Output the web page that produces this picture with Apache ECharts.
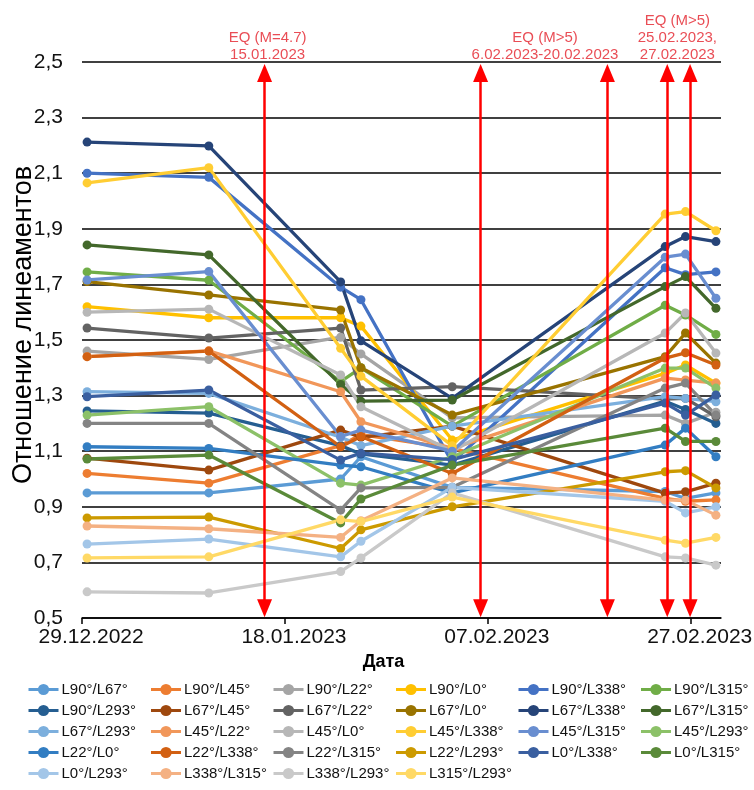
<!DOCTYPE html>
<html><head><meta charset="utf-8">
<script src="https://cdn.jsdelivr.net/npm/echarts@6/dist/echarts.min.js"></script>
<style>html,body{margin:0;padding:0;background:#fff}#c{width:754px;height:790px}</style>
</head><body><div id="c"></div>
<script>
// ---- data ----
const startDate = '2022-12-29';
const dates = ['2022-12-29','2023-01-10','2023-01-23','2023-01-25','2023-02-03','2023-02-24','2023-02-26','2023-03-01'];
const tickDays = [0, 20, 40, 60];
const tickLabels = ['29.12.2022','18.01.2023','07.02.2023','27.02.2023'];
const yTicks = ['0,5','0,7','0,9','1,1','1,3','1,5','1,7','1,9','2,1','2,3','2,5'];

const seriesNames = ['L90°/L67°','L90°/L45°','L90°/L22°','L90°/L0°','L90°/L338°','L90°/L315°',
  'L90°/L293°','L67°/L45°','L67°/L22°','L67°/L0°','L67°/L338°','L67°/L315°',
  'L67°/L293°','L45°/L22°','L45°/L0°','L45°/L338°','L45°/L315°','L45°/L293°',
  'L22°/L0°','L22°/L338°','L22°/L315°','L22°/L293°','L0°/L338°','L0°/L315°',
  'L0°/L293°','L338°/L315°','L338°/L293°','L315°/L293°'];

const v_90_67  = [0.95, 0.95, 1.00, 1.08, 0.97, 0.955, 0.93, 0.95];
const v_90_45  = [1.02, 0.985, 1.12, 1.16, 1.11, 0.93, 0.92, 0.925];
const v_90_22  = [1.46, 1.43, 1.51, 1.45, 1.22, 1.23, 1.20, 1.24];
const v_90_0   = [1.62, 1.58, 1.58, 1.55, 1.14, 1.38, 1.41, 1.345];
const v_90_338 = [2.10, 2.085, 1.69, 1.645, 1.06, 1.76, 1.735, 1.745];
const v_90_315 = [1.745, 1.715, 1.35, 1.40, 1.19, 1.625, 1.59, 1.52];
const v_90_293 = [1.245, 1.237, 1.12, 1.09, 1.05, 1.28, 1.25, 1.20];
const v_67_45  = [1.075, 1.032, 1.176, 1.15, 1.19, 0.949, 0.954, 0.985];
const v_67_22  = [1.543, 1.507, 1.543, 1.32, 1.332, 1.287, 1.29, 1.224];
const v_67_0   = [1.71, 1.662, 1.608, 1.40, 1.23, 1.44, 1.525, 1.417];
const v_67_338 = [2.212, 2.198, 1.709, 1.497, 1.29, 1.836, 1.872, 1.854];
const v_67_315 = [1.842, 1.806, 1.34, 1.28, 1.284, 1.692, 1.728, 1.614];
const v_67_293 = [1.314, 1.308, 1.15, 1.12, 1.19, 1.296, 1.29, 1.278];
const v_45_22  = [1.44, 1.461, 1.314, 1.206, 1.11, 1.363, 1.356, 1.345];
const v_45_0   = [1.60, 1.611, 1.374, 1.26, 1.10, 1.525, 1.597, 1.453];
const v_45_338 = [2.065, 2.12, 1.47, 1.37, 1.12, 1.953, 1.962, 1.893];
const v_45_315 = [1.716, 1.746, 1.153, 1.176, 1.10, 1.798, 1.809, 1.65];
const v_45_293 = [1.23, 1.26, 0.985, 0.978, 1.08, 1.399, 1.399, 1.327];
const v_22_0   = [1.116, 1.11, 1.05, 1.044, 0.95, 1.122, 1.183, 1.08];
const v_22_338 = [1.44, 1.46, 1.116, 1.153, 1.02, 1.435, 1.454, 1.41];
const v_22_315 = [1.20, 1.20, 0.888, 0.968, 0.97, 1.327, 1.345, 1.23];
const v_22_293 = [0.86, 0.863, 0.75, 0.817, 0.90, 1.026, 1.03, 0.968];
const v_0_338  = [1.296, 1.32, 1.068, 1.093, 1.07, 1.273, 1.23, 1.302];
const v_0_315  = [1.072, 1.086, 0.842, 0.928, 1.05, 1.183, 1.135, 1.135];
const v_0_293  = [0.766, 0.784, 0.72, 0.776, 0.97, 0.92, 0.878, 0.90];
const v_338_315= [0.831, 0.821, 0.79, 0.85, 1.004, 0.924, 0.924, 0.87];
const v_338_293= [0.594, 0.59, 0.667, 0.716, 0.95, 0.72, 0.716, 0.69];
const v_315_293= [0.716, 0.72, 0.853, 0.847, 0.935, 0.78, 0.769, 0.79];

const seriesValues = [v_90_67, v_90_45, v_90_22, v_90_0, v_90_338, v_90_315,
  v_90_293, v_67_45, v_67_22, v_67_0, v_67_338, v_67_315,
  v_67_293, v_45_22, v_45_0, v_45_338, v_45_315, v_45_293,
  v_22_0, v_22_338, v_22_315, v_22_293, v_0_338, v_0_315,
  v_0_293, v_338_315, v_338_293, v_315_293];

const seriesColors = ['#5B9BD5','#ED7D31','#A5A5A5','#FFC000','#4472C4','#70AD47',
  '#255E91','#9E480E','#636363','#997300','#264478','#43682B',
  '#7CAFDD','#F1975A','#B7B7B7','#FFCD33','#698ED0','#8CC168',
  '#327DC2','#D26012','#848484','#CC9A00','#3A5FA0','#5A8A39',
  '#A3C6E8','#F4B183','#C9C9C9','#FFD966'];

// earthquake markers (day offsets from start as placed in the figure)
const eventDays = [18.0, 39.3, 51.8, 57.7, 59.95];
const eventTextDays = [18.3, 45.65, 58.7];
const eventTexts = ['EQ (M=4.7)\n15.01.2023', 'EQ (M>5)\n6.02.2023-20.02.2023', 'EQ (M>5)\n25.02.2023,\n27.02.2023'];

// ---- build ----
function dayOf(s) {
  const p = s.split('-').map(Number), q = startDate.split('-').map(Number);
  return (Date.UTC(p[0], p[1]-1, p[2]) - Date.UTC(q[0], q[1]-1, q[2])) / 86400000;
}
const xs = dates.map(d => dayOf(d) + 0.5);
const FONT = '"Liberation Sans", Arial, sans-serif';

const lineSeries = seriesNames.map((name, i) => ({
  name, type: 'line', data: seriesValues[i].map((v, j) => [xs[j], v]),
  symbol: 'circle', symbolSize: 9, showSymbol: true,
  lineStyle: { width: 3.3, color: seriesColors[i] },
  itemStyle: { color: seriesColors[i] },
  z: 3, animation: false
}));

const annotation = {
  name: 'events', type: 'scatter', symbolSize: 0, z: 5, silent: true,
  data: eventTexts.map((t, i) => [eventTextDays[i], 2.5, t]),
  label: { show: true, position: 'top', distance: -1, formatter: p => p.value[2],
    color: '#E3202A', fontSize: 15, lineHeight: 17, fontFamily: FONT, align: 'center' },
  markLine: {
    silent: true, symbol: ['triangle', 'triangle'], symbolSize: [15, 18],
    lineStyle: { color: '#FF0000', width: 2.5, type: 'solid' },
    itemStyle: { color: '#FF0000' },
    label: { show: false },
    data: eventDays.map(d => [{ coord: [d, 0.535] }, { coord: [d, 2.46] }])
  }
};

const chart = echarts.init(document.getElementById('c'), null, { renderer: 'canvas' });
chart.setOption({
  animation: false,
  backgroundColor: '#fff',
  color: seriesColors,
  textStyle: { fontFamily: FONT },
  grid: { left: 82, right: 33, top: 62, bottom: 172, containLabel: false, outerBoundsMode: 'none' },
  xAxis: {
    type: 'value', min: 0, max: 63,
    name: 'Дата', nameLocation: 'middle', nameGap: 34,
    nameTextStyle: { fontSize: 18, fontWeight: 'bold', color: '#000', padding: [0, 36, 0, 0] },
    axisLine: { show: true, lineStyle: { color: '#000', width: 1.5 } },
    axisTick: { show: true, length: 6, lineStyle: { color: '#000', width: 1.5 }, customValues: tickDays },
    axisLabel: { fontSize: 21, color: '#111', margin: 9,
      customValues: tickDays.map(d => d + 0.9),
      formatter: v => tickLabels[tickDays.indexOf(Math.floor(v))] || '' },
    splitLine: { show: false }
  },
  yAxis: {
    type: 'value', min: 0.5, max: 2.5, interval: 0.2,
    name: 'Отношение линеаментов', nameLocation: 'middle', nameGap: 45, nameMoveOverlap: false,
    nameTextStyle: { fontSize: 27, color: '#000', padding: [0, 0, 0, 30] },
    axisLine: { show: false }, axisTick: { show: false },
    axisLabel: { fontSize: 21, color: '#111', margin: 19,
      formatter: v => yTicks[Math.round((v - 0.5) / 0.2)] },
    splitLine: { show: true, lineStyle: { color: '#000', width: 1.5 } }
  },
  legend: {
    data: seriesNames, left: 22, top: 675, width: 740,
    itemWidth: 30, itemHeight: 14, itemGap: 2,
    lineStyle: { width: 3 },
    textStyle: { fontSize: 15, color: '#111', width: 86, lineHeight: 19, padding: [0, 0, 0, -2] }
  },
  series: lineSeries.concat([annotation])
});
</script></body></html>
